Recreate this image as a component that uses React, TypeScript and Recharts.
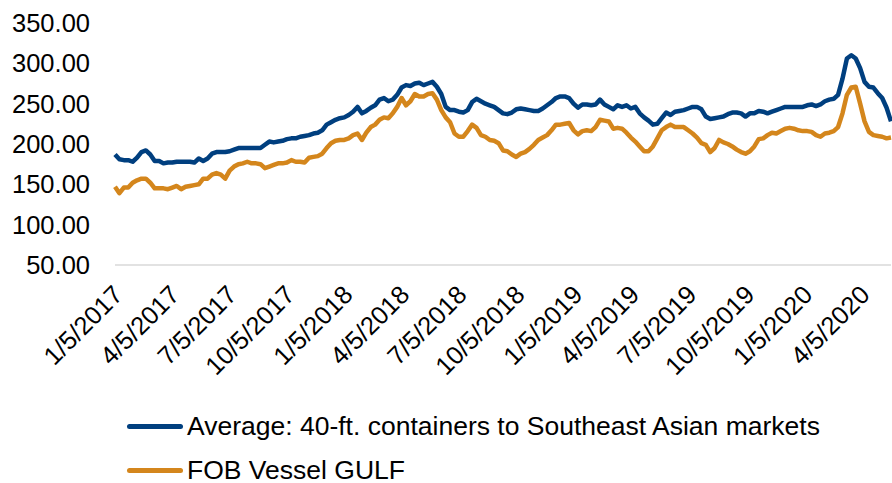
import React from 'react';
import { LineChart, Line, XAxis, YAxis, Legend } from 'recharts';

// weekly prices, starting 1/5/2017
const START = '1/5/2017';

const containerAvg = [
  187, 181, 180, 180, 178, 183, 190, 192, 187, 179,
  179, 176, 177, 177, 178, 178, 178, 178, 177, 182,
  179, 182, 188, 190, 190, 190, 191, 193, 195, 195,
  195, 195, 195, 195, 199, 203, 202, 203, 204, 206,
  207, 207, 209, 210, 211, 213, 214, 217, 224, 227,
  230, 232, 233, 236, 240, 246, 238, 241, 245, 248,
  255, 257, 253, 255, 261, 270, 273, 272, 275, 276,
  273, 275, 277, 271, 262, 246, 242, 242, 240, 239,
  242, 252, 256, 253, 250, 248, 246, 242, 238, 237,
  239, 243, 244, 243, 242, 241, 241, 244, 248, 252,
  257, 259, 259, 257, 250, 245, 249, 249, 248, 249,
  255, 249, 246, 243, 248, 246, 248, 244, 246, 238,
  233, 229, 224, 225, 232, 239, 236, 240, 241, 242,
  244, 246, 246, 243, 234, 231, 232, 233, 234, 237,
  239, 239, 238, 234, 238, 238, 241, 240, 238, 240,
  242, 244, 246, 246, 246, 246, 246, 248, 249, 247,
  249, 253, 255, 256, 261, 281, 306, 310, 306, 294,
  277, 271, 270, 263, 257, 245, 228,
];

const fobGulf = [
  147, 139, 146, 146, 152, 155, 157, 157, 152, 145,
  145, 145, 144, 146, 148, 144, 147, 148, 149, 150,
  157, 157, 162, 164, 162, 157, 167, 172, 175, 176,
  178, 176, 176, 175, 170, 172, 174, 176, 176, 177,
  180, 178, 178, 177, 183, 184, 185, 188, 195, 201,
  204, 205, 205, 207, 211, 213, 205, 214, 221, 224,
  230, 233, 232, 238, 246, 257, 248, 253, 262, 259,
  259, 262, 263, 255, 242, 233, 227, 213, 209, 209,
  216, 224, 220, 211, 209, 205, 204, 201, 192, 191,
  187, 184, 188, 190, 194, 199, 205, 208, 211, 217,
  224, 224, 225, 226, 217, 212, 216, 217, 216, 221,
  230, 229, 228, 219, 220, 219, 214, 208, 203, 197,
  191, 191, 197, 207, 217, 221, 224, 221, 221, 221,
  217, 213, 208, 201, 199, 190, 195, 205, 202, 200,
  197, 193, 190, 188, 191, 197, 206, 207, 211, 214,
  213, 216, 219, 220, 219, 217, 216, 216, 215, 211,
  209, 213, 214, 216, 221, 238, 261, 270, 271, 250,
  228, 215, 211, 210, 209, 207, 208,
];

const tickLabels = [
  '1/5/2017', '4/5/2017', '7/5/2017', '10/5/2017',
  '1/5/2018', '4/5/2018', '7/5/2018', '10/5/2018',
  '1/5/2019', '4/5/2019', '7/5/2019', '10/5/2019',
  '1/5/2020', '4/5/2020',
];

const yTicks = [50, 100, 150, 200, 250, 300, 350];

const FONT = '"Liberation Sans", Arial, sans-serif';
const BLUE = '#003F7F';
const ORANGE = '#D4861C';
const WEEK = 7 * 24 * 3600 * 1000;

const parseDate = (s: string) => {
  const [m, d, y] = s.split('/').map(Number);
  return Date.UTC(y, m - 1, d);
};

const fmtDate = (t: number) => {
  const d = new Date(t);
  return `${d.getUTCMonth() + 1}/${d.getUTCDate()}/${d.getUTCFullYear()}`;
};

const start = parseDate(START);
const data = containerAvg.map((v, i) => ({
  t: start + i * WEEK,
  avg: v,
  fob: fobGulf[i],
}));
const xTicks = tickLabels.map(parseDate);

const DateTick = (props: any) => {
  const { x, y, payload } = props;
  return (
    <g transform={`translate(${x + 3},${y + 25})`}>
      <text
        x={0}
        y={0}
        dy="0.35em"
        textAnchor="end"
        transform="rotate(-45)"
        fontFamily={FONT}
        fontSize={25.5}
        fill="#000"
      >
        {fmtDate(payload.value)}
      </text>
    </g>
  );
};

const LegendRows = (props: any) => {
  const { payload } = props;
  return (
    <div style={{ fontFamily: FONT, fontSize: 26.5, color: '#000', height: 88 }}>
      {(payload || []).map((p: any) => (
        <div key={p.value} style={{ display: 'flex', alignItems: 'center', height: 44 }}>
          <span
            style={{
              display: 'inline-block',
              width: 56,
              height: 5,
              borderRadius: 3,
              background: p.color,
              marginRight: 4,
            }}
          />
          <span>{p.value}</span>
        </div>
      ))}
    </div>
  );
};

export default function App() {
  return (
    <div style={{ position: 'absolute', left: 0, top: 0, background: '#fff' }}>
      <LineChart
        width={892}
        height={483}
        data={data}
        margin={{ top: 23, right: 1, bottom: 0, left: 0 }}
      >
        <XAxis
          dataKey="t"
          type="number"
          scale="time"
          domain={[start, start + (containerAvg.length - 1) * WEEK]}
          ticks={xTicks}
          interval={0}
          height={130}
          tickLine={false}
          tickSize={0}
          tickMargin={0}
          axisLine={{ stroke: '#D9D9D9', strokeWidth: 1.5 }}
          tick={<DateTick />}
        />
        <YAxis
          domain={[50, 350]}
          ticks={yTicks}
          width={115}
          axisLine={false}
          tickLine={false}
          tickSize={0}
          tickMargin={25}
          tickFormatter={(v: number) => v.toFixed(2)}
          tick={{ fontFamily: FONT, fontSize: 25.5, fill: '#000' }}
        />
        <Legend
          layout="vertical"
          align="center"
          verticalAlign="bottom"
          wrapperStyle={{ left: 127, top: 404, width: 760 }}
          content={<LegendRows />}
        />
        <Line
          type="linear"
          dataKey="avg"
          name="Average: 40-ft. containers to Southeast Asian markets"
          stroke={BLUE}
          strokeWidth={4.5}
          strokeLinejoin="round"
          dot={false}
          isAnimationActive={false}
        />
        <Line
          type="linear"
          dataKey="fob"
          name="FOB Vessel GULF"
          stroke={ORANGE}
          strokeWidth={4.5}
          strokeLinejoin="round"
          dot={false}
          isAnimationActive={false}
        />
      </LineChart>
    </div>
  );
}
